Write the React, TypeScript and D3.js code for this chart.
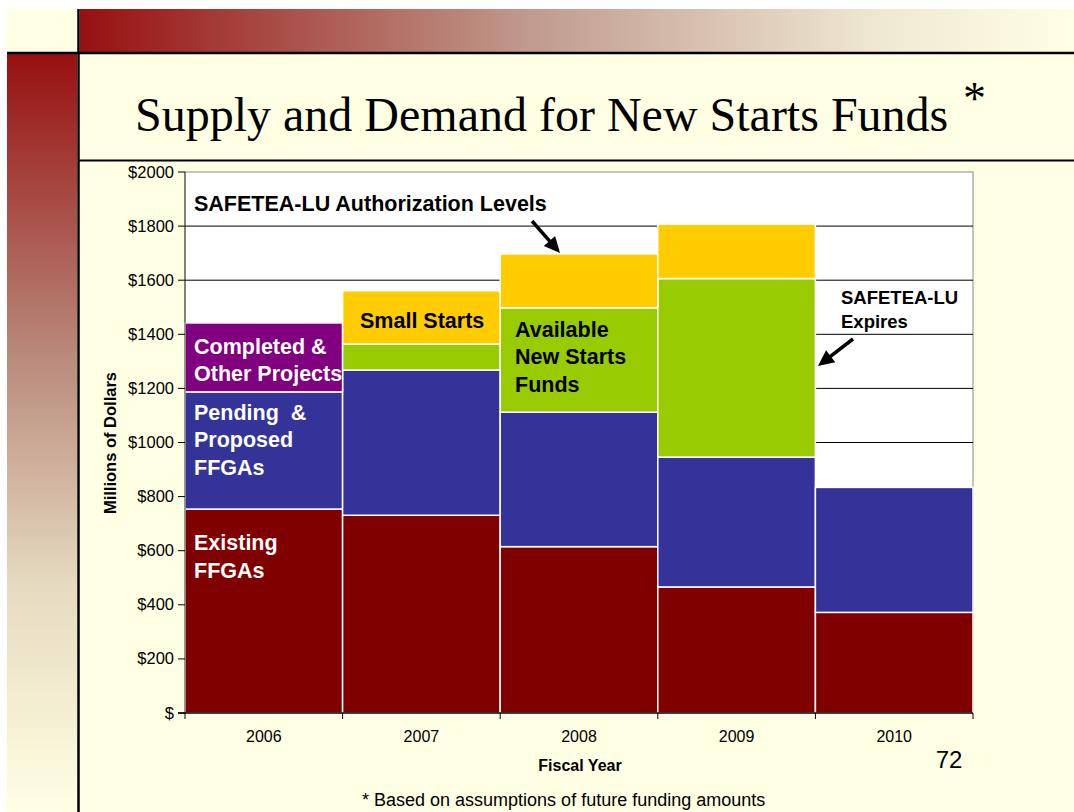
import React from "react";
import * as d3 from "d3";

const years = ["2006", "2007", "2008", "2009", "2010"];
const existingFFGAs = [754, 731, 615, 466, 372];
const pendingFFGAs = [433, 537, 497, 480, 462];
const completedProjects = [255, 0, 0, 0, 0];
const availableNewStarts = [0, 96, 386, 660, 0];
const smallStarts = [0, 197, 199, 201, 0];

const seriesKeys = ["existing", "pending", "completed", "available", "small"];
const seriesColors: Record<string, string> = {
  existing: "#800000",
  pending: "#333399",
  completed: "#800080",
  available: "#99CC00",
  small: "#FFCC00",
};

const yTicks = [0, 200, 400, 600, 800, 1000, 1200, 1400, 1600, 1800, 2000];
const yTickLabels = ["$", "$200", "$400", "$600", "$800", "$1000", "$1200", "$1400", "$1600", "$1800", "$2000"];

const W = 1074;
const H = 812;
const PL = 185, PR = 973, PT = 172, PB = 713;

export default function App() {
  const x = d3.scaleBand<string>().domain(years).range([PL, PR]).padding(0);
  const y = d3.scaleLinear().domain([0, 2000]).range([PB, PT]);

  const table = years.map((yr, i) => ({
    year: yr,
    existing: existingFFGAs[i],
    pending: pendingFFGAs[i],
    completed: completedProjects[i],
    available: availableNewStarts[i],
    small: smallStarts[i],
  }));
  const stacked = d3.stack<any>().keys(seriesKeys)(table);

  const sans = "Arial, 'Liberation Sans', Helvetica, sans-serif";
  const serif = "'Times New Roman', 'Liberation Serif', serif";

  const arrowHead = (x1: number, y1: number, x2: number, y2: number) => {
    const ang = Math.atan2(y2 - y1, x2 - x1);
    const len = 16, half = 7.5;
    const bx = x2 - len * Math.cos(ang), by = y2 - len * Math.sin(ang);
    const px = -Math.sin(ang) * half, py = Math.cos(ang) * half;
    return `M${x2},${y2} L${bx + px},${by + py} L${bx - px},${by - py} Z`;
  };
  const arrowLine = (x1: number, y1: number, x2: number, y2: number) => {
    const ang = Math.atan2(y2 - y1, x2 - x1);
    const ex = x2 - 12 * Math.cos(ang), ey = y2 - 12 * Math.sin(ang);
    return { x1, y1, x2: ex, y2: ey };
  };
  const a1 = { x1: 532, y1: 221, x2: 560, y2: 253 };
  const a2 = { x1: 853, y1: 339, x2: 818, y2: 366 };

  return (
    <svg width={W} height={H} style={{ position: "absolute", left: 0, top: 0 }}>
      <defs>
        <linearGradient id="topBand" x1="0" y1="0" x2="1" y2="0">
          <stop offset="0" stopColor="#971010" />
          <stop offset="0.45" stopColor="#C09A8C" />
          <stop offset="0.8" stopColor="#EFE8D0" />
          <stop offset="1" stopColor="#FFFFE3" />
        </linearGradient>
        <linearGradient id="leftBand" x1="0" y1="0" x2="0" y2="1">
          <stop offset="0" stopColor="#971010" />
          <stop offset="0.4" stopColor="#B98A7C" />
          <stop offset="0.7" stopColor="#E6DAC0" />
          <stop offset="1" stopColor="#FFFFE3" />
        </linearGradient>
      </defs>
      <rect x={0} y={0} width={W} height={H} fill="#ffffff" />
      <rect x={7} y={9} width={W - 7} height={H - 9} fill="#FFFFE3" />
      <rect x={80} y={9} width={W - 80} height={43} fill="url(#topBand)" />
      <rect x={7} y={54} width={70} height={H - 54} fill="url(#leftBand)" />
      <line x1={7} x2={W} y1={53} y2={53} stroke="#000" strokeWidth={2.5} />
      <line x1={78.5} x2={78.5} y1={9} y2={H} stroke="#000" strokeWidth={2.5} />
      <line x1={78} x2={W} y1={160.5} y2={160.5} stroke="#000" strokeWidth={2} />

      <text x={135} y={131} fontFamily={serif} fontSize={48} fill="#000">
        Supply and Demand for New Starts Funds
      </text>
      <text x={963} y={114} fontFamily={serif} fontSize={46} fill="#000">*</text>

      {/* plot area */}
      <rect x={PL} y={PT} width={PR - PL} height={PB - PT} fill="#ffffff" stroke="#8a8a8a" strokeWidth={1} />
      {yTicks.filter((t) => t > 0 && t < 2000).map((t) => (
        <line key={t} x1={PL} x2={PR} y1={y(t)} y2={y(t)} stroke="#000" strokeWidth={1} />
      ))}

      {stacked.map((s) =>
        s.map((d: any, i: number) =>
          d[1] - d[0] > 0 ? (
            <rect
              key={s.key + i}
              x={x(years[i])!}
              y={y(d[1])}
              width={x.bandwidth()}
              height={y(d[0]) - y(d[1])}
              fill={seriesColors[s.key]}
              stroke="#ffffff"
              strokeWidth={1.5}
            />
          ) : null
        )
      )}

      {/* axes */}
      <line x1={PL} x2={PL} y1={PT} y2={PB} stroke="#404040" strokeWidth={1} />
      <line x1={PL - 7} x2={PR} y1={PB} y2={PB} stroke="#000" strokeWidth={1.5} />
      {yTicks.map((t, i) => (
        <g key={t}>
          <line x1={PL - 7} x2={PL} y1={y(t)} y2={y(t)} stroke="#000" strokeWidth={1} />
          <text x={PL - 11} y={y(t) + 5.5} textAnchor="end" fontFamily={sans} fontSize={16.5} fill="#000">
            {yTickLabels[i]}
          </text>
        </g>
      ))}
      {[...years.map((yr) => x(yr)!), PR].map((xx, i) => (
        <line key={i} x1={xx} x2={xx} y1={PB} y2={PB + 6} stroke="#000" strokeWidth={1} />
      ))}
      {years.map((yr) => (
        <text key={yr} x={x(yr)! + x.bandwidth() / 2} y={742} textAnchor="middle" fontFamily={sans} fontSize={16} fill="#000">
          {yr}
        </text>
      ))}
      <text x={580} y={771} textAnchor="middle" fontFamily={sans} fontSize={16} fontWeight="bold" fill="#000">
        Fiscal Year
      </text>
      <text
        transform={`translate(116,443) rotate(-90)`}
        textAnchor="middle"
        fontFamily={sans}
        fontSize={16.5}
        fontWeight="bold"
        fill="#000"
      >
        Millions of Dollars
      </text>

      {/* annotations */}
      <g fontFamily={sans} fontWeight="bold" fontSize={21.5}>
        <text x={194} y={211} fill="#000">SAFETEA-LU Authorization Levels</text>
        <text x={194} y={354} fill="#fff">Completed &amp;</text>
        <text x={194} y={381} fill="#fff">Other Projects</text>
        <text x={194} y={420} fill="#fff" style={{ whiteSpace: "pre" }}>Pending  &amp;</text>
        <text x={194} y={447} fill="#fff">Proposed</text>
        <text x={194} y={475} fill="#fff">FFGAs</text>
        <text x={194} y={550} fill="#fff">Existing</text>
        <text x={194} y={578} fill="#fff">FFGAs</text>
        <text x={360} y={328} fill="#000">Small Starts</text>
        <text x={515} y={337} fill="#000">Available</text>
        <text x={515} y={364} fill="#000">New Starts</text>
        <text x={515} y={392} fill="#000">Funds</text>
      </g>
      <g fontFamily={sans} fontWeight="bold" fontSize={18.5} fill="#000">
        <text x={841} y={304}>SAFETEA-LU</text>
        <text x={841} y={328}>Expires</text>
      </g>
      {[a1, a2].map((a, i) => {
        const l = arrowLine(a.x1, a.y1, a.x2, a.y2);
        return (
          <g key={i}>
            <line x1={l.x1} y1={l.y1} x2={l.x2} y2={l.y2} stroke="#000" strokeWidth={3.5} />
            <path d={arrowHead(a.x1, a.y1, a.x2, a.y2)} fill="#000" />
          </g>
        );
      })}

      <text x={949} y={768} textAnchor="middle" fontFamily={sans} fontSize={24} fill="#000">72</text>
      <text x={362} y={806} fontFamily={sans} fontSize={18} fill="#000">
        * Based on assumptions of future funding amounts
      </text>
    </svg>
  );
}
